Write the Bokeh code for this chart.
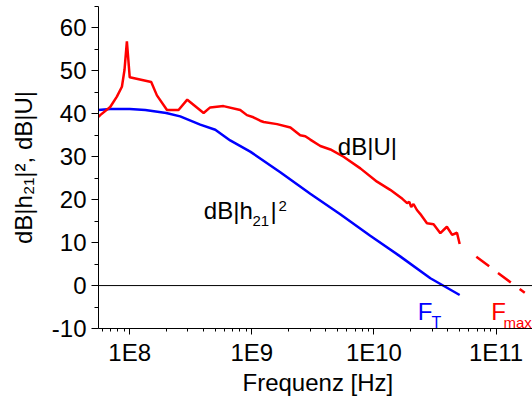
import math
from bokeh.plotting import figure
from bokeh.models import FixedTicker, Span, Label, Title, CustomJSTickFormatter
from bokeh.embed import file_html
from bokeh.resources import INLINE

# ---- data ----
freq_u = [5.55e7, 5.73e7, 6.92e7, 7.85e7, 8.63e7, 9.06e7, 9.48e7, 1.0e8, 1.50e8, 1.67e8,
          2.02e8, 2.51e8, 2.96e8, 4.03e8, 4.56e8, 5.86e8, 8.04e8, 9.12e8, 1.03e9, 1.17e9,
          1.25e9, 1.61e9, 2.07e9, 2.49e9, 2.74e9, 3.01e9, 3.64e9, 4.40e9, 5.64e9, 7.74e9,
          1.06e10, 1.36e10, 1.71e10, 1.87e10, 1.95e10, 2.02e10, 2.11e10, 2.25e10, 2.44e10,
          2.72e10, 3.08e10, 3.50e10, 3.96e10, 4.37e10, 4.79e10, 5.04e10]
db_u = [39.3, 39.7, 41.6, 44.0, 46.3, 50.2, 56.9, 48.5, 47.4, 44.3,
        40.9, 40.9, 43.3, 40.2, 41.5, 41.8, 40.9, 39.7, 39.2, 38.4,
        38.1, 37.6, 36.8, 35.0, 34.8, 34.0, 32.5, 31.7, 30.0, 27.3,
        24.2, 22.3, 20.2, 19.2, 19.5, 18.3, 19.0, 17.6, 16.4,
        14.5, 14.3, 12.2, 13.7, 11.8, 12.3, 9.7]

freq_h = [5.52e7, 6.92e7, 1.0e8, 1.34e8, 1.99e8, 2.59e8, 3.78e8, 5.02e8, 6.65e8, 9.70e8,
          1.71e9, 3.01e9, 5.30e9, 9.33e9, 1.64e10, 2.90e10, 5.04e10]
db_h = [40.9, 41.1, 41.1, 40.9, 40.2, 39.4, 37.5, 36.3, 33.8, 31.2,
        26.4, 21.4, 16.6, 11.6, 6.8, 1.7, -2.2]

freq_ext = [6.9e10, 1.72e11]
db_ext = [6.7, -1.7]

x_ticks = [1e8, 1e9, 1e10, 1e11]
x_tick_labels = ["1E8", "1E9", "1E10", "1E11"]
y_ticks = [-10, 0, 10, 20, 30, 40, 50, 60]
y_tick_labels = ["-10", "0", "10", "20", "30", "40", "50", "60"]
y_minor = [-5, 5, 15, 25, 35, 45, 55, 65]

x_title = "Frequenz [Hz]"
y_title = "dB|h\u2082\u2081|\u00b2, dB|U|"

FONT = "Liberation Sans"
W, H = 532, 397
L, R, T, B = 98, 0, 6, 69
FB = H - B  # frame bottom in page pixels

p = figure(width=W, height=H, x_axis_type="log", x_range=(5.55e7, 1.99e11), y_range=(-10, 65),
           output_backend="svg", toolbar_location=None,
           min_border_left=L, min_border_right=R, min_border_top=T, min_border_bottom=B)
p.outline_line_color = None
p.xgrid.visible = False
p.ygrid.visible = False
p.background_fill_color = "white"
p.border_fill_color = "white"

FMT = "const i = vt.findIndex(t => Math.abs(t - tick) <= 1e-6 * Math.max(1, Math.abs(t))); return i >= 0 ? vl[i] : '';"
minor_x = [k * 10 ** e for e in range(7, 12) for k in range(2, 10)]
p.xaxis.ticker = FixedTicker(ticks=x_ticks, minor_ticks=minor_x)
p.xaxis.formatter = CustomJSTickFormatter(args=dict(vt=x_ticks, vl=x_tick_labels), code=FMT)
p.yaxis.ticker = FixedTicker(ticks=y_ticks, minor_ticks=y_minor)
p.yaxis.formatter = CustomJSTickFormatter(args=dict(vt=y_ticks, vl=y_tick_labels), code=FMT)

for ax in (p.xaxis[0], p.yaxis[0]):
    ax.axis_line_color = "black"
    ax.axis_line_width = 1
    ax.major_tick_line_color = "black"
    ax.minor_tick_line_color = "black"
    ax.major_tick_in = 0
    ax.minor_tick_in = 0
    ax.major_label_text_font = FONT
    ax.major_label_text_font_size = "24px"
    ax.major_label_text_color = "black"
p.xaxis.major_tick_out = 6
p.xaxis.minor_tick_out = 3
p.yaxis.major_tick_out = 7
p.yaxis.minor_tick_out = 4
p.yaxis.major_label_standoff = 5
p.xaxis.major_label_standoff = 4

p.yaxis.axis_label = y_title
p.yaxis.axis_label_text_font = FONT
p.yaxis.axis_label_text_font_size = "24px"
p.yaxis.axis_label_text_font_style = "normal"
p.yaxis.axis_label_text_color = "black"
p.yaxis.axis_label_standoff = 12

p.add_layout(Title(text=x_title, align="left", vertical_align="top", offset=144, text_font=FONT,
                   text_font_size="24px", text_font_style="normal", text_color="black",
                   standoff=0), "below")

p.add_layout(Span(location=0, dimension="width", line_color="black", line_width=1))

p.line(freq_h, db_h, line_color="#0000ff", line_width=2.5)
p.line(freq_u, db_u, line_color="#ff0000", line_width=2.5)
p.line(freq_ext, db_ext, line_color="#ff0000", line_width=2.5, line_dash="16 11")


def lab(text, X, Y, size, color="black"):
    p.add_layout(Label(x=X - L, y=FB - Y, x_units="screen", y_units="screen", text=text,
                       text_font=FONT, text_font_size=f"{size}px", text_color=color,
                       text_align="left", text_baseline="alphabetic"))


# curve annotations
lab("dB|U|", 337.3, 145.7, 24)
lab("dB|h", 203.3, 210, 24)
lab("21", 252, 220, 15)
lab("|", 270, 210, 24)
lab("2", 278, 205, 15)
lab("F", 417.3, 310.7, 24, "#0000ff")
lab("T", 431, 321.7, 16, "#0000ff")
lab("F", 490.7, 310.7, 24, "#ff0000")
lab("max", 503, 321.7, 15, "#ff0000")

open("out.html", "w").write(file_html(p, INLINE))
